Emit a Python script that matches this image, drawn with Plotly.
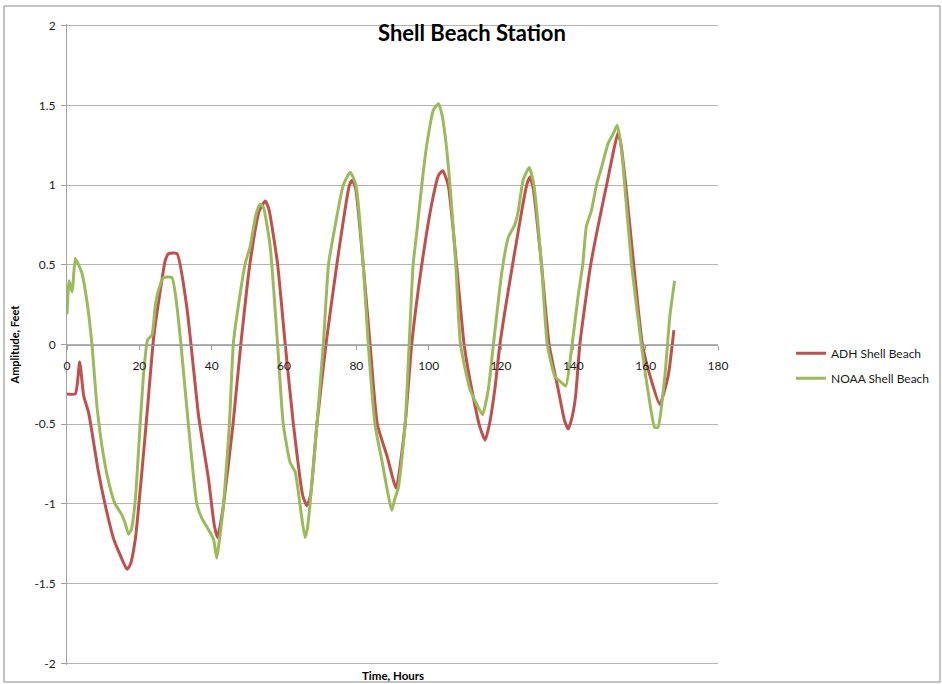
import plotly.graph_objects as go

# ---- data ----
adh_hours = [0, 2.3, 3.5, 4.6, 6.0, 8.7, 10.6, 12.9, 14.7, 16.6, 17.5, 18.9, 20.7, 22.3, 23.9,
             25.8, 27.2, 28.1, 30.4, 33.1, 36.4, 39.1, 40.7, 41.6, 42.4, 43.3, 45.9, 48.1, 50.6,
             53.2, 54.8, 55.8, 58.2, 60.3, 62.6, 65.2, 66.3, 67.3, 69.1, 71.6, 74.6, 78.1, 78.9,
             79.8, 81.9, 83.8, 85.8, 88.5, 91.0, 93.5, 95.3, 98.1, 101.0, 102.7, 103.9, 105.4,
             107.7, 109.8, 111.9, 114.2, 115.6, 116.8, 118.3, 119.7, 123.2, 127.1, 128.0, 128.9,
             131.2, 133.3, 135.8, 137.6, 138.6, 139.5, 140.6, 141.8, 144.8, 149.2, 152.4, 153.2,
             154.5, 156.7, 159.1, 161.5, 163.9, 166.2, 167.8]
adh_ft = [-0.31, -0.31, -0.11, -0.32, -0.43, -0.80, -1.01, -1.22, -1.32, -1.41, -1.38, -1.22, -0.80,
          -0.39, 0.03, 0.34, 0.53, 0.57, 0.57, 0.24, -0.45, -0.84, -1.13, -1.21, -1.13, -1.0, -0.5,
          0.01, 0.51, 0.84, 0.90, 0.85, 0.51, 0.01, -0.5, -0.95, -1.01, -0.95, -0.5, 0.0, 0.5, 1.0,
          1.03, 0.98, 0.5, 0.0, -0.5, -0.70, -0.90, -0.5, 0.0, 0.5, 0.9, 1.06, 1.09, 1.0, 0.5, 0.0,
          -0.28, -0.52, -0.60, -0.50, -0.28, 0.0, 0.5, 1.0, 1.05, 0.98, 0.5, 0.0, -0.28, -0.48,
          -0.53, -0.47, -0.33, 0.0, 0.5, 1.0, 1.33, 1.25, 1.0, 0.5, 0.0, -0.22, -0.375, -0.20, 0.09]

noaa_hours = [0, 0.6, 1.4, 1.7, 2.3, 3.2, 4.1, 5.7, 6.9, 8.3, 10.1, 11.8, 13.3, 15.2, 16.2, 17.0,
              17.8, 18.9, 20.2, 21.2, 22.3, 23.5, 24.4, 25.3, 26.7, 29.0, 30.4, 31.5, 33.6, 35.9,
              37.3, 39.1, 40.5, 41.4, 42.0, 43.3, 44.9, 46.0, 47.1, 49.3, 50.6, 52.3, 53.4, 54.3,
              56.2, 58.2, 59.8, 61.7, 63.1, 64.4, 65.8, 66.5, 67.2, 69.1, 70.9, 72.3, 74.1, 76.4,
              78.3, 79.9, 81.9, 83.3, 85.2, 87.0, 89.8, 90.6, 91.6, 93.5, 94.6, 95.7, 96.8, 98.1,
              99.4, 101.3, 102.7, 103.6, 104.5, 105.9, 107.5, 108.8, 111.4, 113.3, 114.9, 116.5,
              117.9, 120.2, 122.0, 123.8, 124.8, 126.1, 127.8, 129.1, 131.2, 132.8, 134.9, 136.3,
              137.9, 139.5, 141.3, 142.6, 143.6, 145.0, 146.4, 147.8, 149.6, 151.2, 152.1, 153.2,
              154.2, 156.1, 158.8, 160.7, 162.5, 163.4, 165.3, 166.7, 168.0]
noaa_ft = [0.19, 0.40, 0.33, 0.39, 0.54, 0.50, 0.45, 0.24, 0.0, -0.39, -0.70, -0.89, -1.0, -1.07,
           -1.13, -1.19, -1.16, -0.97, -0.51, -0.18, 0.03, 0.06, 0.24, 0.34, 0.42, 0.42, 0.24, 0.0,
           -0.51, -1.0, -1.09, -1.16, -1.22, -1.34, -1.25, -1.0, -0.5, 0.01, 0.2, 0.51, 0.61, 0.82,
           0.88, 0.86, 0.61, 0.01, -0.5, -0.74, -0.80, -1.0, -1.21, -1.15, -1.0, -0.5, 0.01, 0.5,
           0.74, 1.0, 1.08, 1.0, 0.5, 0.0, -0.51, -0.72, -1.04, -0.97, -0.90, -0.5, 0.0, 0.5, 0.72,
           1.0, 1.24, 1.47, 1.51, 1.45, 1.32, 1.0, 0.5, 0.0, -0.28, -0.375, -0.44, -0.28, 0.0, 0.45,
           0.67, 0.75, 0.84, 1.03, 1.11, 1.0, 0.5, 0.0, -0.2, -0.23, -0.26, -0.03, 0.30, 0.5, 0.74,
           0.84, 1.0, 1.11, 1.26, 1.33, 1.375, 1.25, 1.0, 0.5, 0.0, -0.30, -0.52, -0.52, -0.2, 0.18,
           0.40]

x_ticks = [0, 20, 40, 60, 80, 100, 120, 140, 160, 180]
y_ticks = [-2, -1.5, -1, -0.5, 0, 0.5, 1, 1.5, 2]
y_tick_text = ["-2", "-1.5", "-1", "-0.5", "0", "0.5", "1", "1.5", "2"]

FONT = "Lato"
GRID = "#b4b4b4"

# plot area: x 67..718, y 24..665 (y range padded slightly so the ±2 gridlines draw)
L, R, T, B = 67, 224, 24, 19
PW, PH = 942 - L - R, 684 - T - B

fig = go.Figure()
fig.add_trace(go.Scatter(x=adh_hours, y=adh_ft, mode="lines", name="ADH Shell Beach",
                         legendgroup="a",
                         line=dict(color="#c0504d", width=3, shape="spline", smoothing=0.5)))
fig.add_trace(go.Scatter(x=noaa_hours, y=noaa_ft, mode="lines", name="NOAA Shell Beach",
                         legendgroup="b",
                         line=dict(color="#9bbb59", width=3, shape="spline", smoothing=0.5)))

fig.update_layout(
    width=942, height=684,
    margin=dict(l=L, r=R, t=T, b=B, autoexpand=False),
    paper_bgcolor="white", plot_bgcolor="white",
    font=dict(family=FONT, size=12, color="#1a1a1a"),
    title=dict(text="Shell Beach Station", x=0.501, xref="container", xanchor="center",
               y=1 - 33 / 684, yref="container", yanchor="middle",
               font=dict(family=FONT, size=22, color="#000000", weight="bold")),
    showlegend=True,
    legend=dict(x=(791 - L) / PW, xanchor="left", y=(684 - B - 365.8) / PH, yanchor="middle",
                font=dict(family=FONT, size=12, color="#1a1a1a"),
                tracegroupgap=6, traceorder="grouped",
                bgcolor="rgba(0,0,0,0)"),
    xaxis=dict(range=[0, 180], tickvals=x_ticks, ticktext=[str(v) for v in x_ticks],
               anchor="free", position=0.5, showgrid=False, zeroline=False,
               showline=True, linecolor="#a0a0a0", linewidth=1,
               ticks="outside", ticklen=4, tickcolor="#a0a0a0", ticklabelstandoff=6,
               tickfont=dict(family=FONT, size=12, color="#1a1a1a")),
    yaxis=dict(range=[-2.01, 2.01], tickvals=y_ticks, ticktext=y_tick_text,
               showgrid=True, gridcolor=GRID, gridwidth=1, zeroline=False,
               showline=True, linecolor="#a0a0a0", linewidth=1,
               ticks="outside", ticklen=5, tickcolor="#a0a0a0", ticklabelstandoff=3,
               tickfont=dict(family=FONT, size=12, color="#1a1a1a")),
    annotations=[
        dict(text="<b>Amplitude, Feet</b>", xref="paper", yref="paper",
             x=(14 - L) / PW, y=0.5, textangle=-90, showarrow=False,
             xanchor="center", yanchor="middle",
             font=dict(family=FONT, size=11, color="#000000")),
        dict(text="<b>Time, Hours</b>", xref="paper", yref="paper",
             x=0.5, y=-(675 - (684 - B)) / PH, showarrow=False,
             xanchor="center", yanchor="middle",
             font=dict(family=FONT, size=11.5, color="#000000")),
    ],
    shapes=[
        dict(type="rect", xref="paper", yref="paper",
             x0=(4 - L) / PW, x1=(940 - L) / PW,
             y0=-(682 - (684 - B)) / PH, y1=1 + (T - 6) / PH,
             line=dict(color="#878787", width=1), fillcolor="rgba(0,0,0,0)", layer="below"),
    ],
)

fig.write_html(
    "out.html",
    config={"responsive": False, "displayModeBar": False},
    post_script="document.body.style.margin='0px';document.body.style.padding='0px';"
                "document.documentElement.style.overflow='hidden';",
)
